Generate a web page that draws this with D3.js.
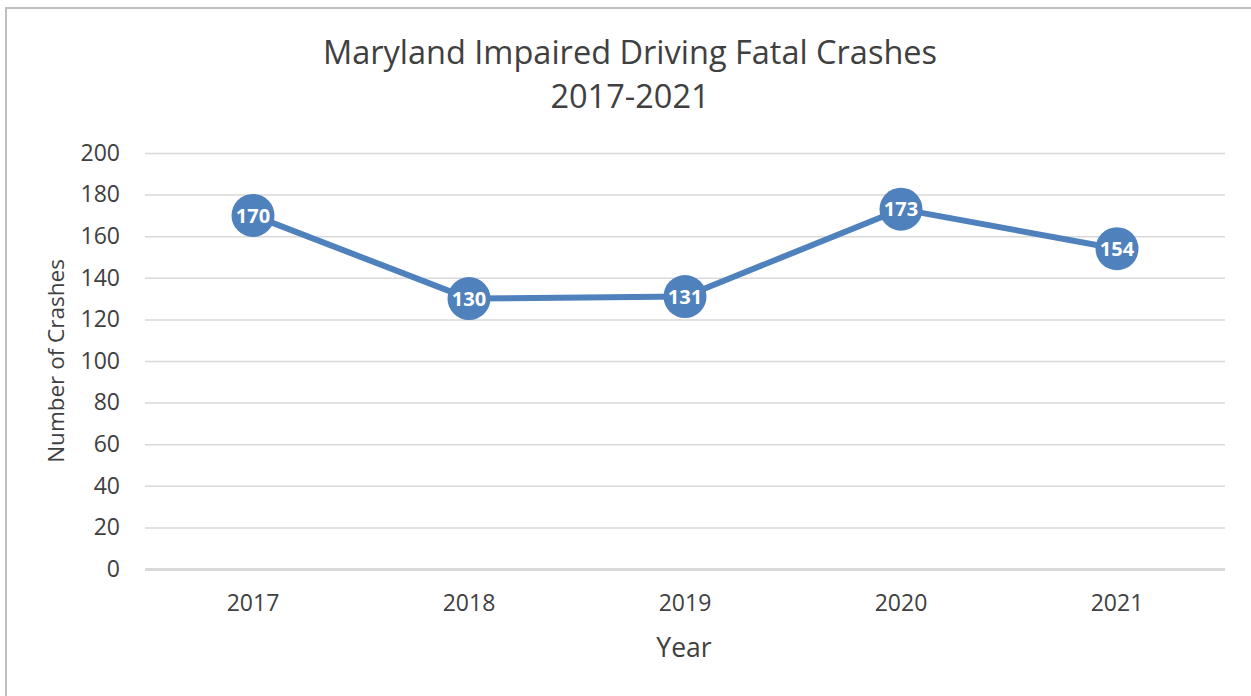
<!DOCTYPE html>
<html>
<head>
<meta charset="utf-8">
<script src="https://cdn.jsdelivr.net/npm/d3@7"></script>
<style>
  body { margin: 0; background: #fff; }
  text { font-family: "Open Sans", sans-serif; fill: #404040; }
</style>
</head>
<body>
<div id="chart"></div>
<script>
const years = ["2017", "2018", "2019", "2020", "2021"];
const crashes = [170, 130, 131, 173, 154];
const yTicks = [0, 20, 40, 60, 80, 100, 120, 140, 160, 180, 200];
const titleLines = ["Maryland Impaired Driving Fatal Crashes", "2017-2021"];

const width = 1251, height = 696;
const margin = { top: 153, right: 26, bottom: 127, left: 145 };
const iwidth = width - margin.left - margin.right;
const iheight = height - margin.top - margin.bottom;

const svg = d3.select("#chart").append("svg")
  .attr("width", width)
  .attr("height", height);

// chart frame
svg.append("rect")
  .attr("x", 6).attr("y", 8)
  .attr("width", width + 10).attr("height", height + 10)
  .attr("fill", "none")
  .attr("stroke", "#bfbfbf")
  .attr("stroke-width", 2);

const g = svg.append("g")
  .attr("transform", `translate(${margin.left},${margin.top})`);

const x = d3.scaleBand().domain(years).range([0, iwidth]).padding(0);
const y = d3.scaleLinear().domain([0, 200]).range([iheight, 0]);

// gridlines + y labels
const yAxis = g.append("g")
  .call(d3.axisLeft(y).tickValues(yTicks).tickSize(-iwidth).tickPadding(25));
yAxis.select(".domain").remove();
yAxis.selectAll(".tick line")
  .attr("stroke", "#d9d9d9")
  .attr("stroke-width", (d) => (d === 0 ? 3 : 1.5));
yAxis.selectAll(".tick text")
  .style("font-size", "23px")
  .attr("fill", "#404040");

// x labels
const xAxis = g.append("g")
  .attr("transform", `translate(0,${iheight})`)
  .call(d3.axisBottom(x).tickSize(0).tickPadding(26));
xAxis.select(".domain").remove();
xAxis.selectAll(".tick text")
  .style("font-size", "23px")
  .attr("fill", "#404040");

const data = years.map((yr, i) => ({ year: yr, value: crashes[i] }));
const cx = (d) => x(d.year) + x.bandwidth() / 2;

const line = d3.line().x(cx).y((d) => y(d.value));

g.append("path")
  .datum(data)
  .attr("d", line)
  .attr("fill", "none")
  .attr("stroke", "#4f81bd")
  .attr("stroke-width", 6)
  .attr("stroke-linejoin", "round");

g.selectAll("circle.pt")
  .data(data)
  .enter()
  .append("circle")
  .attr("class", "pt")
  .attr("cx", cx)
  .attr("cy", (d) => y(d.value))
  .attr("r", 21.5)
  .attr("fill", "#4f81bd");

g.selectAll("text.lbl")
  .data(data)
  .enter()
  .append("text")
  .attr("class", "lbl")
  .attr("x", cx)
  .attr("y", (d) => y(d.value))
  .attr("dy", "0.36em")
  .attr("text-anchor", "middle")
  .style("font-size", "20px")
  .style("font-weight", "bold")
  .style("fill", "#ffffff")
  .text((d) => d.value);

// title
svg.append("text")
  .attr("x", 630).attr("y", 64)
  .attr("text-anchor", "middle")
  .style("font-size", "32.5px")
  .text(titleLines[0]);
svg.append("text")
  .attr("x", 630).attr("y", 108)
  .attr("text-anchor", "middle")
  .style("font-size", "32.5px")
  .text(titleLines[1]);

// axis titles
svg.append("text")
  .attr("x", 684).attr("y", 657)
  .attr("text-anchor", "middle")
  .style("font-size", "26.5px")
  .text("Year");

svg.append("text")
  .attr("transform", "translate(64,361) rotate(-90)")
  .attr("text-anchor", "middle")
  .style("font-size", "22.5px")
  .text("Number of Crashes");
</script>
</body>
</html>
